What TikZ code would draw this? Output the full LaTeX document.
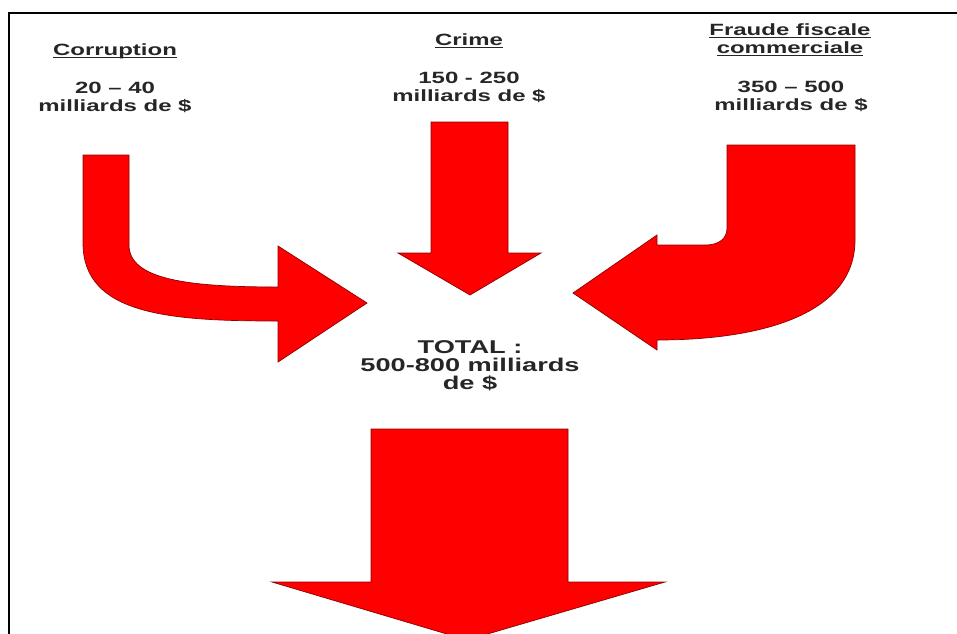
\documentclass[tikz,border=0pt]{standalone}
\usepackage{fontspec}
\setmainfont{Liberation Sans}[FakeStretch=1.47]
\usepackage{tikz}
\usetikzlibrary{positioning}

% underline drawn a little below the baseline
\newcommand{\ulbar}[1]{\setbox0\hbox{#1}\rlap{\rule[-3pt]{\wd0}{1.5pt}}\box0}

\begin{document}
\begin{tikzpicture}[x=1pt, y=-1pt,
        flow/.style={fill=red, draw=red!55!black, line width=0.7pt},
        head/.style={font=\fontsize{16.3}{18}\selectfont\bfseries, text=black!85, align=center, inner sep=0pt, anchor=base},
        amount/.style={head},
        total/.style={font=\fontsize{18.5}{18}\selectfont\bfseries, text=black!85, align=center, inner sep=0pt, anchor=base}]

        \clip (0,0) rectangle (957,633);
        \draw[line width=2pt] (957,12.5) -- (8.5,12.5) -- (8.5,634);

        % sources (base = last line)
        \node[head] (corr) at (115,55) {\ulbar{Corruption}};
        \node[amount] (corrval) at (115,111) {20 -- 40\\milliards de \$};
        \node[head] (crime) at (469,45) {\ulbar{Crime}};
        \node[amount] (crimeval) at (469,101) {150 - 250\\milliards de \$};
        \node[head] (fraud) at (790,53) {\ulbar{Fraude fiscale}\\\ulbar{commerciale}};
        \node[amount] (fraudval) at (791,110) {350 -- 500\\milliards de \$};

        \node[total] (total) at (470,389) {TOTAL :\\500-800 milliards\\de \$};

        % arrows
        \filldraw[flow] (83,155) -- (129,155) -- (129,245)
            .. controls (129,280) and (190,287) .. (278,287)
            -- (278,246) -- (367,303) -- (278,362) -- (278,321)
            .. controls (170,321) and (83,315) .. (83,243) -- cycle;
        \filldraw[flow] (431,122) -- (508,122) -- (508,253) -- (541,253)
            -- (470,295) -- (398,253) -- (431,253) -- cycle;
        \filldraw[flow] (727,145) -- (855,145) -- (855,240)
            .. controls (855,315) and (760,340) .. (657,340)
            -- (657,350) -- (573,293) -- (657,235) -- (657,245) -- (705,245)
            .. controls (720,245) and (727,238) .. (727,228) -- cycle;
        \filldraw[flow] (371,429) -- (568,429) -- (568,582) -- (665,582)
            -- (467,640) -- (272,582) -- (371,582) -- cycle;
\end{tikzpicture}
\end{document}
